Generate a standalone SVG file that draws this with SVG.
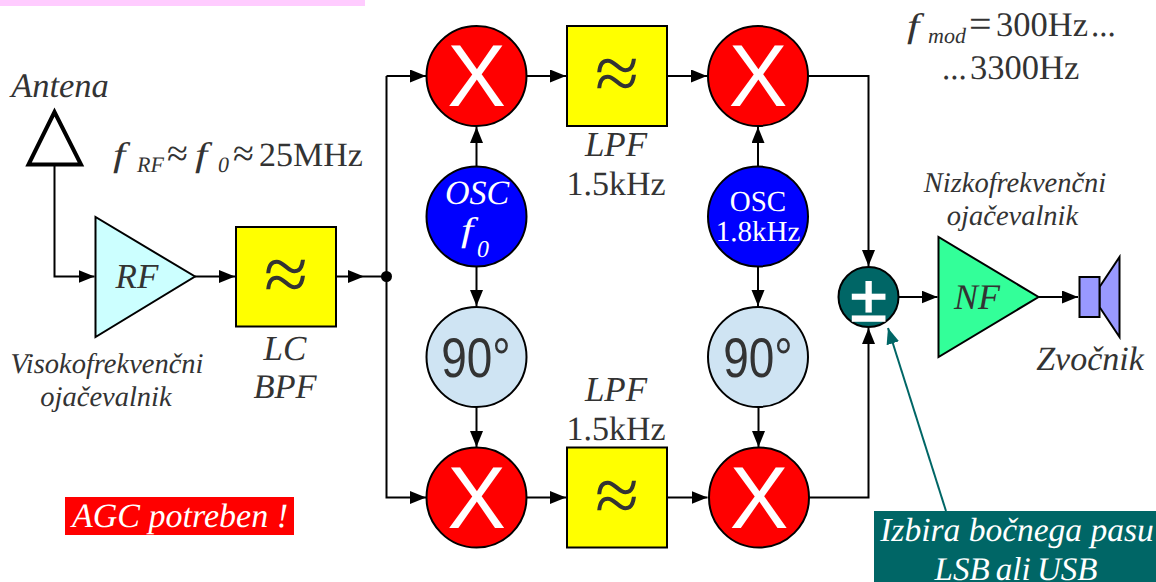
<svg xmlns="http://www.w3.org/2000/svg" width="1156" height="582" viewBox="0 0 1156 582">
<style>
text{font-family:"Liberation Serif","Times New Roman",serif;fill:#333;text-rendering:geometricPrecision}
.i{font-style:italic}
.m{text-anchor:middle}
.n{stroke:#000;stroke-width:2}
.w{fill:#fff}
.x{font-family:"Liberation Sans",Arial,sans-serif;font-size:88px;fill:#fff;text-anchor:middle}
.d{font-family:"Liberation Sans",Arial,sans-serif;font-size:56px;text-anchor:middle}
.a{font-family:"Noto Sans","Liberation Serif",sans-serif;font-weight:200;font-size:80px;text-anchor:middle}
.l{font-size:34.500px}
.e{font-size:38px}
.f{font-size:34px;font-style:italic}
.mix{fill:#f00}.flt{fill:#ff0}.osc{fill:#00f}.ph{fill:#cfe4f3}
.c{fill:none;stroke:#000;stroke-width:2}
</style>
<defs>
<marker id="ah" markerUnits="userSpaceOnUse" markerWidth="18" markerHeight="14" refX="16" refY="6.500" orient="auto"><path d="M0 0L16 6.500L0 13Z" fill="#000"/></marker>
<marker id="at" markerUnits="userSpaceOnUse" markerWidth="18" markerHeight="14" refX="16" refY="6.500" orient="auto"><path d="M0 0L16 6.500L0 13Z" fill="#006666"/></marker>
</defs>
<rect id="bar" x="0" y="0" width="365" height="6" fill="#fcf"/>
<g id="connectors">
<path class="c" d="M54.500 164V276.500H94.500" marker-end="url(#ah)"/>
<path class="c" d="M195 276.500H235" marker-end="url(#ah)"/>
<path class="c" d="M336 276.500H364"  marker-end="url(#ah)"/>
<path class="c" d="M364 276.500H386.500"/>
<path class="c" d="M386.500 76V497.500H426" marker-end="url(#ah)"/>
<path class="c" d="M386.500 76H426" marker-end="url(#ah)"/>
<path class="c" d="M527 76H566" marker-end="url(#ah)"/>
<path class="c" d="M668 76H707" marker-end="url(#ah)"/>
<path class="c" d="M527 497.500H566" marker-end="url(#ah)"/>
<path class="c" d="M668 497.500H707.500" marker-end="url(#ah)"/>
<path class="c" d="M476.500 166V127" marker-end="url(#ah)"/>
<path class="c" d="M476.500 267V306" marker-end="url(#ah)"/>
<path class="c" d="M476.500 407V447" marker-end="url(#ah)"/>
<path class="c" d="M758 166V127" marker-end="url(#ah)"/>
<path class="c" d="M758 267V306" marker-end="url(#ah)"/>
<path class="c" d="M758.500 407V447" marker-end="url(#ah)"/>
<path class="c" d="M808 76H868.500V266" marker-end="url(#ah)"/>
<path class="c" d="M809 497.500H868.500V328" marker-end="url(#ah)"/>
<path class="c" d="M899 297H937.500" marker-end="url(#ah)"/>
<path class="c" d="M1038.500 297H1078" marker-end="url(#ah)"/>
<path d="M946 511L888 328" fill="none" stroke="#006666" stroke-width="2" marker-end="url(#at)"/>
<circle cx="386.500" cy="276.500" r="5.500" fill="#000"/>
</g>
<g id="antenna"><path d="M54.500 112L28.500 164.500H81Z" fill="#fff" stroke="#000" stroke-width="4"/><text class="i l m" x="60" y="97">Antena</text></g>
<g id="rf"><path class="n" d="M95.500 217V337L195 276.500Z" fill="#cff"/><text class="i m" x="137" y="288" font-size="35">RF</text></g>
<g id="lcbpf"><rect class="n flt" x="236" y="227" width="100" height="99.500"/><text class="a" x="286" y="300.500">≈</text></g>
<g id="mix1"><circle class="n mix" cx="476.500" cy="76" r="50"/><text class="x" x="476.500" y="106">X</text></g>
<g id="lpf1"><rect class="n flt" x="567" y="26" width="100" height="100"/><text class="a" x="617" y="100">≈</text></g>
<g id="mix2"><circle class="n mix" cx="758" cy="76" r="50"/><text class="x" x="758" y="106">X</text></g>
<g id="osc1"><circle class="n osc" cx="476.500" cy="216.500" r="50"/><text class="i m w" x="477" y="204" font-size="34">OSC</text><text class="f w" transform="translate(461 241) scale(1.300 1)">f</text><text class="i w" x="477" y="257" font-size="24">0</text></g>
<g id="osc2"><circle class="n osc" cx="758" cy="216.500" r="50"/><text class="m w" x="758" y="211" font-size="29">OSC</text><text class="m w" x="758" y="241" font-size="29">1.8kHz</text></g>
<g id="ph1"><circle class="n ph" cx="476.500" cy="357" r="50"/><text class="d" transform="translate(476 377) scale(.82 1)">90°</text></g>
<g id="ph2"><circle class="n ph" cx="758" cy="357" r="50"/><text class="d" transform="translate(758 377) scale(.82 1)">90°</text></g>
<g id="mix3"><circle class="n mix" cx="476.500" cy="497.500" r="50"/><text class="x" x="476.500" y="527.500">X</text></g>
<g id="lpf2"><rect class="n flt" x="567" y="447.500" width="100" height="100"/><text class="a" x="617" y="521.500">≈</text></g>
<g id="mix4"><circle class="n mix" cx="759" cy="497.500" r="50"/><text class="x" x="759" y="527.500">X</text></g>
<g id="sum"><circle class="n" cx="868.500" cy="297" r="30" fill="#066"/><text class="m w" x="868.500" y="320.500" font-size="66" stroke="#fff" stroke-width="1.500" style="font-family:'Liberation Sans',sans-serif">±</text></g>
<g id="nf"><path class="n" d="M938.500 237V357L1038.500 297Z" fill="#3f9"/><text class="i m" x="977" y="309" font-size="36">NF</text></g>
<g id="speaker"><path class="n" d="M1099.500 287L1119.500 257V337L1099.500 307Z" fill="#99f"/><rect class="n" x="1079.500" y="277" width="20" height="40" fill="#99f"/><text class="i m" x="1090" y="370" font-size="34">Zvočnik</text></g>
<text class="i m" x="107" y="373" font-size="28.500">Visokofrekvenčni</text>
<text class="i m" x="106" y="406" font-size="28.500">ojačevalnik</text>
<text class="i m" x="285" y="360" font-size="35">LC</text>
<text class="i m" x="285" y="398" font-size="34.500">BPF</text>
<text class="i m" x="616" y="156" font-size="35">LPF</text>
<text class="m" x="616" y="195" font-size="34">1.5kHz</text>
<text class="i m" x="616" y="401" font-size="35">LPF</text>
<text class="m" x="616" y="440" font-size="34">1.5kHz</text>
<text class="i m" x="1015" y="192" font-size="28.500">Nizkofrekvenčni</text>
<text class="i m" x="1012.500" y="225" font-size="28.500">ojačevalnik</text>
<g id="f-rf"><text class="f" transform="translate(113 166) scale(1.300 1)">f</text><text class="i" x="137" y="172" font-size="22">RF</text><text class="e" x="167" y="166">≈</text><text class="f" transform="translate(195 166) scale(1.300 1)">f</text><text class="i" x="218" y="172" font-size="22">0</text><text class="e" x="233" y="166">≈</text><text x="259" y="166" font-size="34">25MHz</text></g>
<g id="f-mod"><text class="f" transform="translate(907 37) scale(1.300 1)">f</text><text class="i" x="928" y="43" font-size="22">mod</text><text x="969" y="37" font-size="40">=</text><text x="996" y="36" font-size="34.500">300Hz</text><text x="1091" y="36" font-size="33">...</text><text x="942" y="79" font-size="33">...</text><text x="970" y="79" font-size="34.500">3300Hz</text></g>
<g id="agc"><rect x="65" y="497" width="229" height="38" fill="#f00"/><text class="i m w" x="180" y="527" font-size="34">AGC potreben !</text></g>
<g id="izbira"><rect x="874" y="511" width="282" height="71" fill="#066"/><text class="i m w" x="1017" y="541" font-size="33.500">Izbira bočnega pasu</text><text class="i m w" x="1016" y="580" font-size="33" word-spacing="-2">LSB ali USB</text></g>
</svg>
